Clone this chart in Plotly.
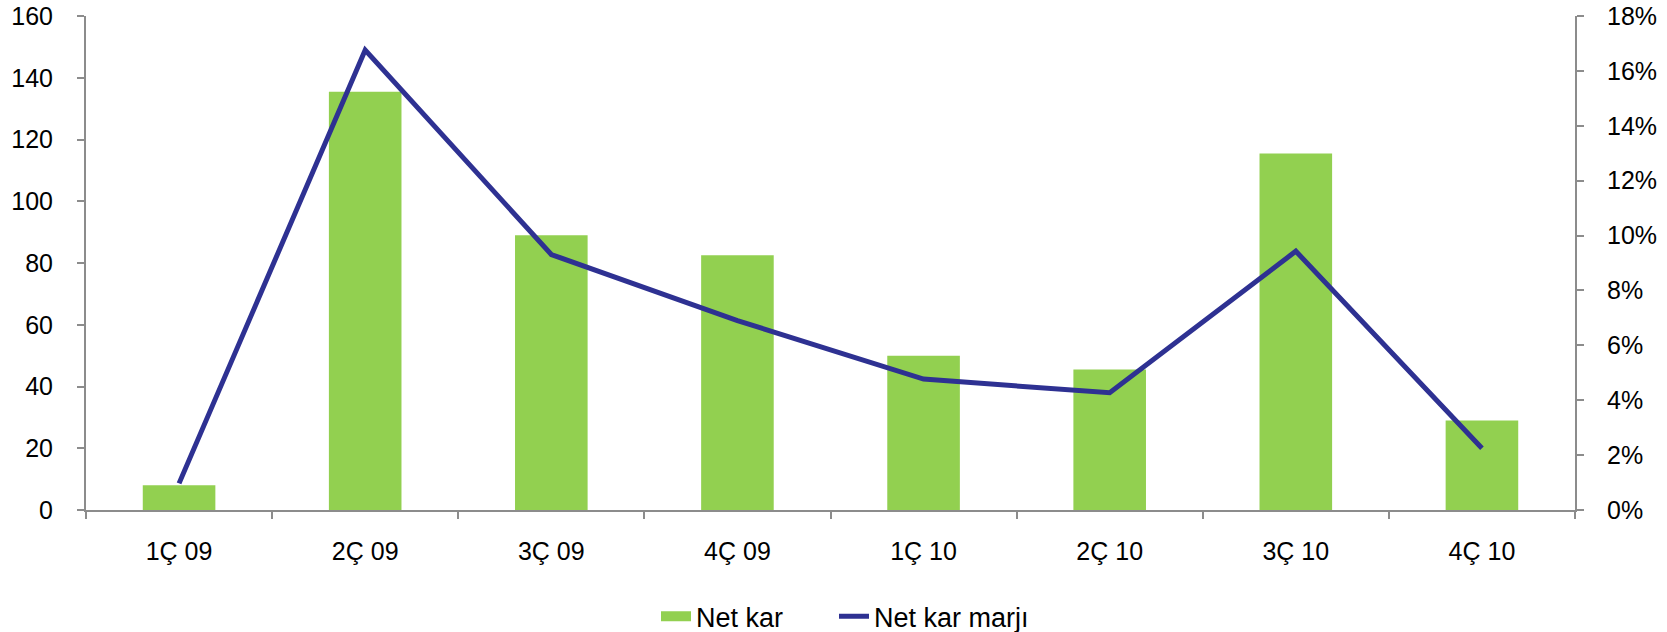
import plotly.graph_objects as go

categories = ["1Ç 09", "2Ç 09", "3Ç 09", "4Ç 09", "1Ç 10", "2Ç 10", "3Ç 10", "4Ç 10"]
net_kar = [8, 135.5, 89, 82.5, 50, 45.5, 115.5, 29]
net_kar_marji = [0.0097, 0.1676, 0.0931, 0.069, 0.0477, 0.0427, 0.0943, 0.0225]

left_ticks = [0, 20, 40, 60, 80, 100, 120, 140, 160]
right_ticks = [0, 0.02, 0.04, 0.06, 0.08, 0.10, 0.12, 0.14, 0.16, 0.18]

FONT = "Liberation Sans, Arial, sans-serif"
AXIS_COLOR = "#8c8c8c"
BAR_COLOR = "#92D050"
LINE_COLOR = "#2E3192"

fig = go.Figure()
fig.add_trace(go.Bar(
    x=categories, y=net_kar, name="Net kar",
    marker=dict(color=BAR_COLOR, line=dict(width=0)),
    width=0.39, yaxis="y", showlegend=False,
))
fig.add_trace(go.Scatter(
    x=categories, y=net_kar_marji, name="Net kar marjı",
    mode="lines", line=dict(color=LINE_COLOR, width=5),
    yaxis="y2", showlegend=False,
))
# legend entries (swatches styled like the reference)
fig.add_trace(go.Scatter(
    x=[None], y=[None], name="Net kar", mode="lines",
    line=dict(color=BAR_COLOR, width=14), showlegend=True, hoverinfo="skip",
    legend="legend",
))
fig.add_trace(go.Scatter(
    x=[None], y=[None], name="Net kar marjı", mode="lines",
    line=dict(color=LINE_COLOR, width=5), showlegend=True, hoverinfo="skip",
    legend="legend2",
))

legend_common = dict(orientation="h", y=-0.216, yanchor="middle", xanchor="left",
                     font=dict(size=27), itemclick=False, itemdoubleclick=False,
                     bgcolor="rgba(0,0,0,0)", borderwidth=0)

fig.update_layout(
    width=1667, height=632,
    margin=dict(l=86, r=92, t=16, b=122, autoexpand=False),
    paper_bgcolor="white", plot_bgcolor="white",
    font=dict(family=FONT, size=25, color="#000000"),
    showlegend=True,
    legend=dict(x=(656 - 86) / 1489, **legend_common),
    legend2=dict(x=(834 - 86) / 1489, **legend_common),
    xaxis=dict(
        type="category", showgrid=False, showline=True, linecolor=AXIS_COLOR, linewidth=2,
        ticks="outside", tickson="boundaries", ticklen=7, tickcolor=AXIS_COLOR, tickwidth=2,
        ticklabelstandoff=18, automargin=False,
    ),
    yaxis=dict(
        range=[0, 160], tickvals=left_ticks, showgrid=False, zeroline=False,
        showline=True, linecolor=AXIS_COLOR, linewidth=2,
        ticks="outside", ticklen=7, tickcolor=AXIS_COLOR, tickwidth=2,
        ticklabelstandoff=19, automargin=False,
    ),
    yaxis2=dict(
        range=[0, 0.18], tickvals=right_ticks, tickformat=".0%", overlaying="y", side="right",
        showgrid=False, zeroline=False,
        showline=True, linecolor=AXIS_COLOR, linewidth=2,
        ticks="outside", ticklen=7, tickcolor=AXIS_COLOR, tickwidth=2,
        ticklabelstandoff=18, automargin=False,
    ),
)

fig.write_html(
    "out.html",
    config={"displayModeBar": False},
    post_script="document.body.style.margin='0';document.body.style.padding='0';document.body.style.overflow='hidden';",
)
